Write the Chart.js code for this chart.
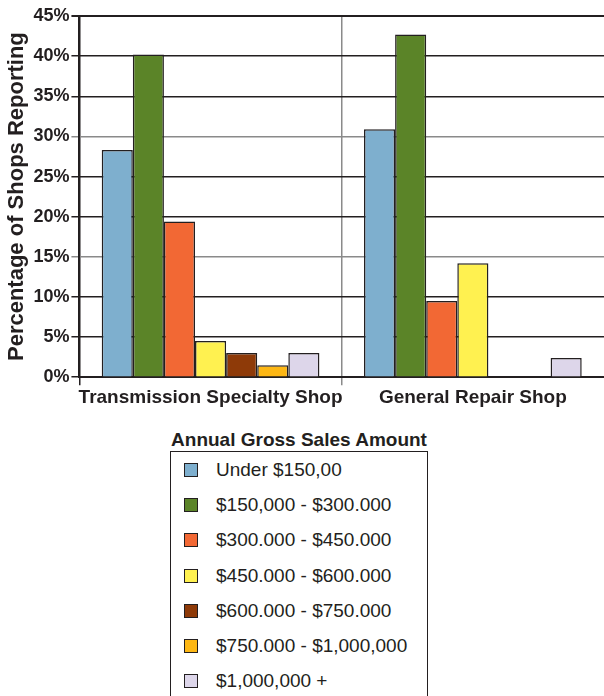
<!DOCTYPE html>
<html>
<head>
<meta charset="utf-8">
<script src="https://cdn.jsdelivr.net/npm/chart.js@4/dist/chart.umd.min.js"></script>
<style>
    html, body { margin: 0; padding: 0; background: #fff; }
    body { width: 604px; height: 696px; position: relative; overflow: hidden; font-family: 'Liberation Sans', Arial, Helvetica, sans-serif; color: #231f20; }
    .chart-wrap { position: absolute; left: 0; top: 0; width: 604px; height: 410px; }
    .legend-title { position: absolute; left: 120px; width: 358px; top: 429px; text-align: center; font-weight: bold; font-size: 19px; line-height: 22px; }
    .legend-box { position: absolute; left: 170px; top: 451px; width: 256px; height: 260px; border: 1.5px solid #231f20; }
    .legend-box ul { list-style: none; margin: 0; padding: 0; }
    .legend-box li { height: 35.3px; display: flex; align-items: center; font-size: 19px; }
    .legend-box .swatch { display: inline-block; width: 12px; height: 12px; border: 1.5px solid #231f20; margin-left: 13px; margin-right: 18px; }
</style>
</head>
<body>
<div class="chart-wrap"><canvas id="salesChart"></canvas></div>
<div class="legend-title">Annual Gross Sales Amount</div>
<div class="legend-box"><ul id="legend-list"></ul></div>

<script>
// Aandeel werkplaatsen per omzetklasse, per type werkplaats (waarden in %)
const shopTypes = ['Transmission Specialty Shop', 'General Repair Shop'];

const salesBands = [
    'Under $150,00',
    '$150,000 - $300.000',
    '$300.000 - $450.000',
    '$450.000 - $600.000',
    '$600.000 - $750.000',
    '$750.000 - $1,000,000',
    '$1,000,000 +',
];

const under150k      = [28.3, 30.9];
const from150to300k  = [40.2, 42.7];
const from300to450k  = [19.4, 9.5];
const from450to600k  = [4.5, 14.2];
const from600to750k  = [3.0, null];
const from750kTo1m   = [1.5, null];
const over1m         = [3.0, 2.4];

const yTicks = [0, 5, 10, 15, 20, 25, 30, 35, 40, 45];

const bandColors = ['#7eafce', '#5b8428', '#f26834', '#fff150', '#8e3a08', '#fdb714', '#ddd6ea'];

const FONT = "'Liberation Sans', Arial, Helvetica, sans-serif";
const INK = '#231f20';

const seriesValues = [under150k, from150to300k, from300to450k, from450to600k, from600to750k, from750kTo1m, over1m];

// ── HTML legenda (één regel per omzetklasse, met kader) ───────────────────

const htmlLegend = {
    id: 'htmlLegend',
    afterUpdate(chart) {
        const list = document.getElementById('legend-list');
        list.innerHTML = '';
        chart.options.plugins.legend.labels.generateLabels(chart).forEach(item => {
            const li = document.createElement('li');
            const box = document.createElement('span');
            box.className = 'swatch';
            box.style.background = item.fillStyle;
            li.appendChild(box);
            li.appendChild(document.createTextNode(item.text));
            list.appendChild(li);
        });
    },
};

// ── Chart ─────────────────────────────────────────────────────────────────

function drawChart() {
    const ctx = document.getElementById('salesChart').getContext('2d');

    new Chart(ctx, {
        type: 'bar',
        data: {
            labels: shopTypes,
            datasets: salesBands.map((band, i) => ({
                label: band,
                data: seriesValues[i],
                backgroundColor: bandColors[i],
                borderColor: INK,
                borderWidth: 1.5,
                borderSkipped: 'start',
                barPercentage: 1.0,
                categoryPercentage: 0.83,
            })),
        },
        plugins: [htmlLegend],
        options: {
            responsive: true,
            maintainAspectRatio: false,
            animation: false,
            layout: { padding: { top: 16, right: 0, left: 4, bottom: 0 } },
            plugins: {
                legend: { display: false },
                tooltip: { enabled: false },
            },
            scales: {
                x: {
                    grid: {
                        offset: true,
                        // alleen de scheidingslijn tussen beide groepen tonen
                        color: c => c.index === 1 ? '#8a8a8a' : (c.index === 0 ? INK : 'rgba(0,0,0,0)'),
                        lineWidth: 1.5,
                        tickLength: 8,
                    },
                    border: { color: INK, width: 2 },
                    ticks: {
                        color: INK,
                        font: { family: FONT, size: 19, weight: 'bold' },
                        padding: 1,
                        maxRotation: 0,
                        minRotation: 0,
                        autoSkip: false,
                    },
                },
                y: {
                    min: 0,
                    max: 45,
                    afterBuildTicks: axis => { axis.ticks = yTicks.map(v => ({ value: v })); },
                    grid: {
                        color: c => (c.tick && (c.tick.value === 15 || c.tick.value === 30)) ? '#8a8a8a' : INK,
                        lineWidth: c => (c.tick && c.tick.value === 45) ? 2 : 1.5,
                        tickLength: 8,
                    },
                    border: { color: INK, width: 2 },
                    ticks: {
                        color: INK,
                        font: { family: FONT, size: 18, weight: 'bold' },
                        padding: 2,
                        callback: v => v + '%',
                    },
                    title: {
                        display: true,
                        text: 'Percentage of Shops Reporting',
                        color: INK,
                        font: { family: FONT, size: 22, weight: 'bold' },
                        padding: { top: 0, bottom: 1 },
                    },
                },
            },
        },
    });
}

drawChart();
</script>
</body>
</html>
